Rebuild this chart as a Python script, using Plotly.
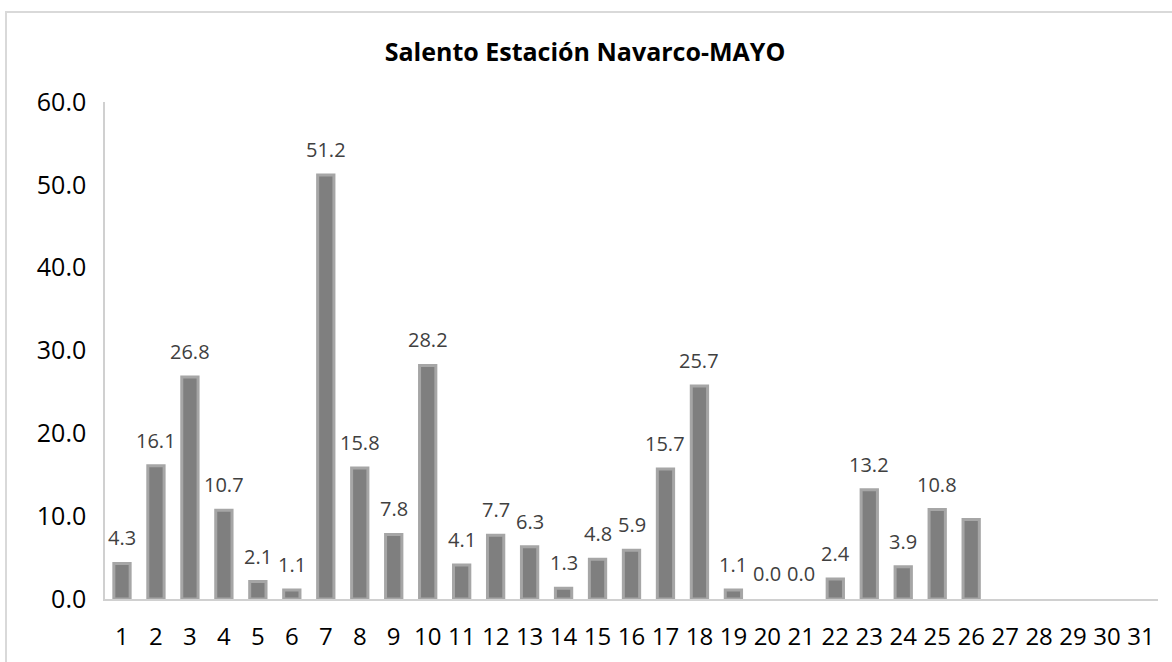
import plotly.graph_objects as go

days = [str(d) for d in range(1, 32)]
rain = [4.3, 16.1, 26.8, 10.7, 2.1, 1.1, 51.2, 15.8, 7.8, 28.2, 4.1, 7.7, 6.3, 1.3, 4.8,
        5.9, 15.7, 25.7, 1.1, 0.0, 0.0, 2.4, 13.2, 3.9, 10.8, 9.6, None, None, None, None, None]
labels = ["4.3", "16.1", "26.8", "10.7", "2.1", "1.1", "51.2", "15.8", "7.8", "28.2", "4.1", "7.7",
          "6.3", "1.3", "4.8", "5.9", "15.7", "25.7", "1.1", "0.0", "0.0", "2.4", "13.2", "3.9",
          "10.8", "", "", "", "", "", ""]
yticks = [0, 10, 20, 30, 40, 50, 60]
ytick_text = ["0.0", "10.0", "20.0", "30.0", "40.0", "50.0", "60.0"]
title = "Salento Estación Navarco-MAYO"

FONT = "Open Sans"
W, H = 1172, 662
ML, MR, MT, MB = 105, 14, 102, 63

fig = go.Figure()
fig.add_trace(go.Bar(
    x=days, y=rain,
    marker=dict(color="#7f7f7f",
                line=dict(color="#a6a6a6",
                          width=[3 if (v is not None and v > 0) else 0 for v in rain])),
    width=0.48,
    hoverinfo="x+y",
))

for i, (v, t) in enumerate(zip(rain, labels)):
    if t and v is not None:
        fig.add_annotation(x=i, y=v, text=t, showarrow=False, yanchor="bottom",
                           yshift=10, font=dict(family=FONT, size=20, color="#404040"))

pw = W - ML - MR
ph = H - MT - MB
bx0 = (6 - ML) / pw
bx1 = (W + 20 - ML) / pw
by1 = (H - MB - 12) / ph
by0 = (H - MB - H - 20) / ph
fig.add_shape(type="rect", xref="paper", yref="paper", x0=bx0, x1=bx1, y0=by0, y1=by1,
              line=dict(color="#d9d9d9", width=2), fillcolor="rgba(0,0,0,0)", layer="below")

fig.update_layout(
    width=W, height=H,
    margin=dict(l=ML, r=MR, t=MT, b=MB, autoexpand=False),
    paper_bgcolor="white", plot_bgcolor="white",
    showlegend=False,
    title=dict(text=f"<b>{title}</b>", x=585 / W, xref="container", xanchor="center",
               y=1 - 52 / H, yref="container", yanchor="middle",
               font=dict(family=FONT, size=25, color="#000000")),
    font=dict(family=FONT, color="#000000"),
)
fig.update_xaxes(type="category", categoryorder="array", categoryarray=days,
                 showline=True, linecolor="#d0d0d0", linewidth=1.5, automargin=False,
                 showgrid=False, ticks="", ticklabelstandoff=15,
                 tickfont=dict(family=FONT, size=24, color="#000000"))
fig.update_yaxes(range=[0, 60], tickvals=yticks, ticktext=ytick_text,
                 showline=True, linecolor="#d0d0d0", linewidth=1.5, automargin=False,
                 showgrid=False, zeroline=False, ticks="", ticklabelstandoff=12,
                 tickfont=dict(family=FONT, size=25, color="#000000"))

fig.write_html("out.html", config={"displayModeBar": False},
               post_script="document.body.style.margin='0';")
